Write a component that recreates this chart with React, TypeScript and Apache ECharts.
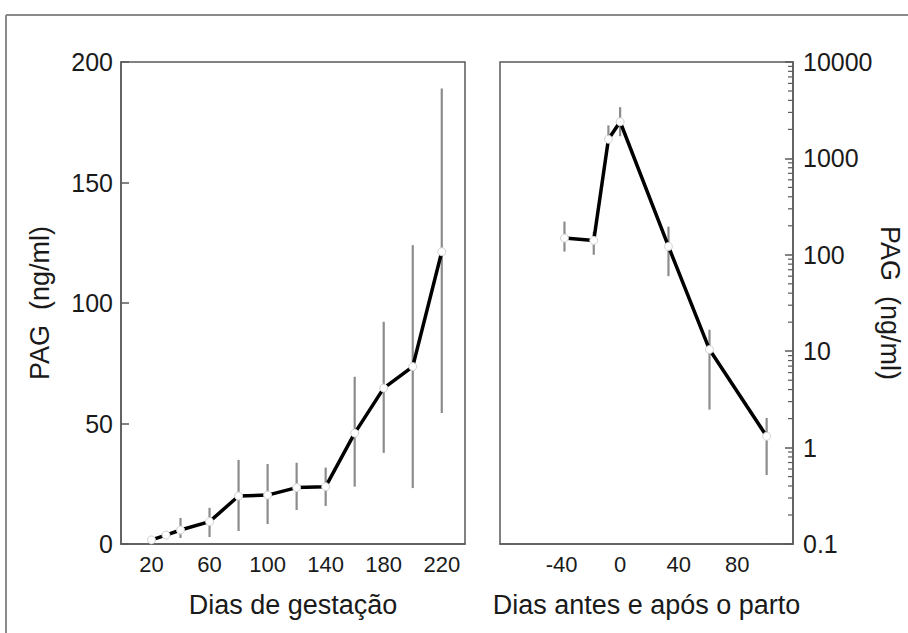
import React, { useEffect, useRef } from "react";
import * as echarts from "echarts";

// Gestation panel: PAG concentration by day of pregnancy
const gestDays = [20, 30, 40, 60, 80, 100, 120, 140, 160, 180, 200, 220];
const gestPag = [1.7, 3.7, 5.8, 9.3, 19.9, 20.3, 23.4, 23.8, 46, 64.7, 73.6, 121.3];
const gestLow = [null, null, 2.5, 2.9, 5.4, 8.3, 14.1, 15.8, 23.8, 37.8, 23.2, 54.4];
const gestHigh = [null, null, 10.8, 15, 34.9, 33.2, 33.7, 31.7, 69.4, 92.2, 124, 189];
const gestTickLabels = [20, 60, 100, 140, 180, 220];

// Peripartum panel: PAG around calving (log scale)
const partoDays = [-38, -18, -8, 0, 33, 61, 100];
const partoPag = [149, 141, 1580, 2400, 122, 10.4, 1.31];
const partoLow = [108, 100, 1450, 1700, 60, 2.48, 0.52];
const partoHigh = [221, 173, 2200, 3400, 196, 16.7, 2.03];
const partoTickLabels = [-40, 0, 40, 80];
const logDecades = [0.1, 1, 10, 100, 1000];
const minorSteps = [2, 3, 4, 5, 6, 7, 8, 9];

const FONT = "'Liberation Sans', Arial, sans-serif";
const TEXT = "#1a1a1a";
const FRAME = "#5a5a5a";
const BAR = "#8c8c8c";

const X2_MIN = -82;
const X2_MAX = 118;

function errorBars(days: number[], lo: (number | null)[], hi: (number | null)[]) {
  const out: number[][] = [];
  days.forEach((d, i) => {
    const l = lo[i];
    const h = hi[i];
    if (l != null && h != null) out.push([d, l, h]);
  });
  return out;
}

const renderBar = (_params: any, api: any) => {
  const x = api.value(0);
  const p1 = api.coord([x, api.value(1)]);
  const p2 = api.coord([x, api.value(2)]);
  return {
    type: "line",
    shape: { x1: p1[0], y1: p1[1], x2: p2[0], y2: p2[1] },
    style: { stroke: BAR, lineWidth: 2.2 },
  };
};

export default function App() {
  const ref = useRef<HTMLDivElement>(null);

  useEffect(() => {
    if (!ref.current) return;
    const chart = echarts.init(ref.current, null, { renderer: "svg" });

    const minorData: number[][] = [];
    logDecades.forEach((d) => minorSteps.forEach((s) => minorData.push([X2_MAX, +(d * s).toPrecision(3)])));

    const labelStyle = { color: TEXT, fontSize: 25, fontFamily: FONT };
    const nameStyle = { color: TEXT, fontSize: 27, fontFamily: FONT };
    const frameLine = { show: true, onZero: false, lineStyle: { color: FRAME, width: 1.5 } };

    chart.setOption({
      animation: false,
      backgroundColor: "#fff",
      graphic: [
        { type: "line", shape: { x1: 6, y1: 15, x2: 908, y2: 15 }, style: { stroke: "#8a8a8a", lineWidth: 2 } },
        { type: "line", shape: { x1: 6, y1: 15, x2: 6, y2: 633 }, style: { stroke: "#8a8a8a", lineWidth: 2 } },
      ],
      grid: [
        { left: 121, top: 62, width: 344, height: 482, show: true, borderColor: FRAME, borderWidth: 1.5 },
        { left: 500, top: 62, width: 293, height: 482, show: true, borderColor: FRAME, borderWidth: 1.5 },
      ],
      xAxis: [
        {
          gridIndex: 0,
          type: "value",
          min: -1,
          max: 236,
          name: "Dias de gestação",
          nameLocation: "middle",
          nameGap: 47,
          nameTextStyle: nameStyle,
          axisLine: frameLine,
          axisTick: { show: false },
          splitLine: { show: false },
          axisLabel: { ...labelStyle, fontSize: 22, margin: 9, customValues: gestTickLabels },
        },
        {
          gridIndex: 1,
          type: "value",
          min: X2_MIN,
          max: X2_MAX,
          name: "Dias antes e após o parto",
          nameLocation: "middle",
          nameGap: 47,
          nameTextStyle: nameStyle,
          axisLine: frameLine,
          axisTick: { show: false },
          splitLine: { show: false },
          axisLabel: { ...labelStyle, fontSize: 22, margin: 9, customValues: partoTickLabels },
        },
      ],
      yAxis: [
        {
          gridIndex: 0,
          type: "value",
          min: 0,
          max: 200,
          interval: 50,
          name: "PAG\u00a0\u00a0(ng/ml)",
          nameLocation: "middle",
          nameRotate: 90,
          nameGap: 68,
          nameTextStyle: nameStyle,
          axisLine: frameLine,
          axisTick: { show: true, inside: true, length: 8, lineStyle: { color: FRAME, width: 1.5 } },
          splitLine: { show: false },
          axisLabel: { ...labelStyle, margin: 8 },
        },
        {
          gridIndex: 1,
          type: "log",
          logBase: 10,
          min: 0.1,
          max: 10000,
          position: "right",
          name: "PAG\u00a0\u00a0(ng/ml)",
          nameLocation: "middle",
          nameRotate: -90,
          nameGap: 74,
          nameTextStyle: nameStyle,
          axisLine: frameLine,
          axisTick: { show: true, inside: true, length: 8, lineStyle: { color: FRAME, width: 1.5 } },
          splitLine: { show: false },
          axisLabel: {
            ...labelStyle,
            margin: 10,
            formatter: (v: number) => (v >= 1 ? String(Math.round(v)) : String(+v.toFixed(1))),
          },
        },
      ],
      series: [
        {
          type: "custom",
          xAxisIndex: 0,
          yAxisIndex: 0,
          data: errorBars(gestDays, gestLow, gestHigh),
          encode: { x: 0, y: [1, 2] },
          renderItem: renderBar,
          z: 1,
          silent: true,
        },
        {
          type: "line",
          xAxisIndex: 0,
          yAxisIndex: 0,
          data: gestDays.map((d, i) => [d, gestPag[i]]),
          lineStyle: { color: "#000", width: 3.5 },
          symbol: "circle",
          symbolSize: 8,
          itemStyle: { color: "#fff", borderColor: "#d0d0d0", borderWidth: 1 },
          z: 3,
        },
        {
          type: "custom",
          xAxisIndex: 1,
          yAxisIndex: 1,
          data: errorBars(partoDays, partoLow, partoHigh),
          encode: { x: 0, y: [1, 2] },
          renderItem: renderBar,
          z: 1,
          silent: true,
        },
        {
          type: "line",
          xAxisIndex: 1,
          yAxisIndex: 1,
          data: partoDays.map((d, i) => [d, partoPag[i]]),
          lineStyle: { color: "#000", width: 3.5 },
          symbol: "circle",
          symbolSize: 8,
          itemStyle: { color: "#fff", borderColor: "#d0d0d0", borderWidth: 1 },
          z: 3,
        },
        {
          // minor ticks of the log axis, drawn inward from the right edge
          type: "custom",
          xAxisIndex: 1,
          yAxisIndex: 1,
          data: minorData,
          encode: { x: 0, y: 1 },
          silent: true,
          z: 2,
          renderItem: (_p: any, api: any) => {
            const p = api.coord([api.value(0), api.value(1)]);
            return {
              type: "line",
              shape: { x1: p[0] - 5, y1: p[1], x2: p[0], y2: p[1] },
              style: { stroke: FRAME, lineWidth: 1.2 },
            };
          },
        },
      ],
    });

    return () => chart.dispose();
  }, []);

  return (
    <div
      ref={ref}
      style={{ position: "fixed", left: 0, top: 0, width: 908, height: 633, background: "#fff" }}
    />
  );
}
